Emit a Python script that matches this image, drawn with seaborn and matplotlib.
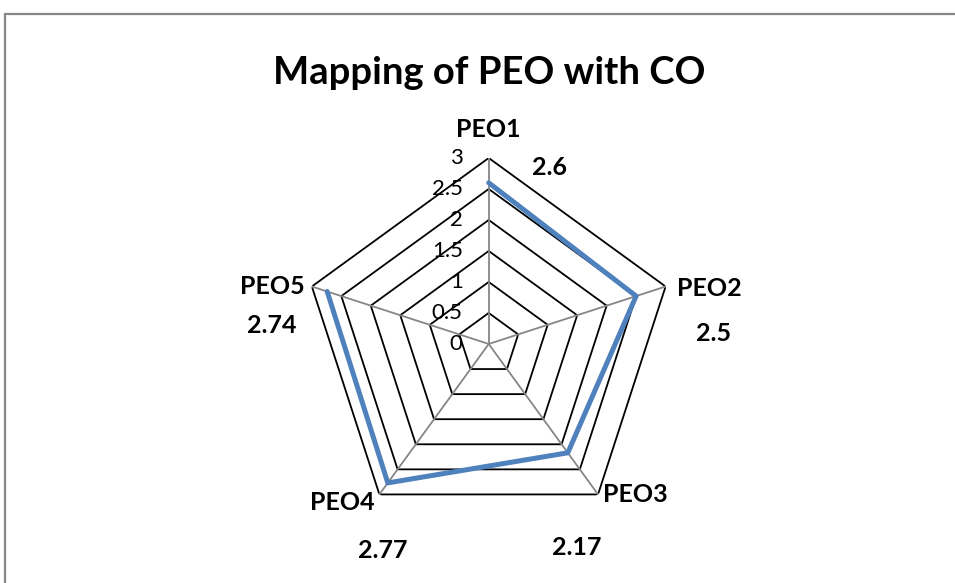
import numpy as np
import pandas as pd
import seaborn as sns
import matplotlib.pyplot as plt
from matplotlib.patches import Rectangle

# Chart data
categories = ['PEO1', 'PEO2', 'PEO3', 'PEO4', 'PEO5']
values = [2.6, 2.5, 2.17, 2.77, 2.74]
value_labels = ['2.6', '2.5', '2.17', '2.77', '2.74']
r_ticks = [0, 0.5, 1, 1.5, 2, 2.5, 3]
r_tick_labels = ['0', '0.5', '1', '1.5', '2', '2.5', '3']

sns.set_style('white')
plt.rcParams['font.family'] = ['Lato', 'DejaVu Sans']
plt.rcParams['text.color'] = 'black'

fig = plt.figure(figsize=(9.55, 5.83), dpi=100)
ax = fig.add_axes([0.317, 0.091, 0.3895, 0.638], projection='polar')
ax.set_theta_offset(np.pi / 2)
ax.set_theta_direction(-1)
ax.set_ylim(0, 3)
ax.grid(False)
ax.spines['polar'].set_visible(False)
ax.set_xticks([])
ax.set_yticks([])

n = len(categories)
angles = [2 * np.pi * i / n for i in range(n)]
closed = angles + angles[:1]

# pentagon grid
for r in r_ticks[1:]:
    ax.plot(closed, [r] * (n + 1), color='black', lw=1.3, zorder=1)
for a in angles:
    ax.plot([a, a], [0, r_ticks[-1]], color='#868686', lw=1.3, zorder=1)

# data line
df = pd.DataFrame({'theta': closed, 'value': values + values[:1]})
sns.lineplot(data=df, x='theta', y='value', sort=False, color='#4F81BD',
             lw=3.6, ax=ax, zorder=3)
ax.set_xlabel('')
ax.set_ylabel('')

# radial tick labels along the top spoke
for r, lab in zip(r_ticks, r_tick_labels):
    ax.annotate(lab, xy=(0, r), xytext=(-26, 0), textcoords='offset pixels',
                ha='right', va='center', fontsize=16, color='black',
                annotation_clip=False)

# category labels
cat_offsets = [(0, 28), (11, -2), (5, 0), (-5, -8), (-7, 0)]
cat_align = [('center', 'center'), ('left', 'center'), ('left', 'center'),
             ('right', 'center'), ('right', 'center')]
for a, lab, off, (ha, va) in zip(angles, categories, cat_offsets, cat_align):
    ax.annotate(lab, xy=(a, 3), xytext=off, textcoords='offset pixels',
                ha=ha, va=va, fontsize=18, fontweight='bold', color='black',
                annotation_clip=False)

# value labels
val_offsets = [(61, -10), (48, -47), (-21, -53), (3, -56), (-40, -39)]
for a, lab, off in zip(angles, value_labels, val_offsets):
    ax.annotate(lab, xy=(a, 3), xytext=off, textcoords='offset pixels',
                ha='center', va='center', fontsize=18, fontweight='bold',
                color='black', annotation_clip=False)

fig.text(0.512, 1 - 73 / 583, 'Mapping of PEO with CO', ha='center',
         va='center', fontsize=27.5, fontweight='bold', color='black')

# chart border
fig.patches.append(Rectangle((5 / 955, -0.1), 1.2, 1 - 14 / 583 + 0.1,
                             transform=fig.transFigure, fill=False,
                             edgecolor='#878787', lw=1.6))

fig.savefig('out.png', dpi=100)
